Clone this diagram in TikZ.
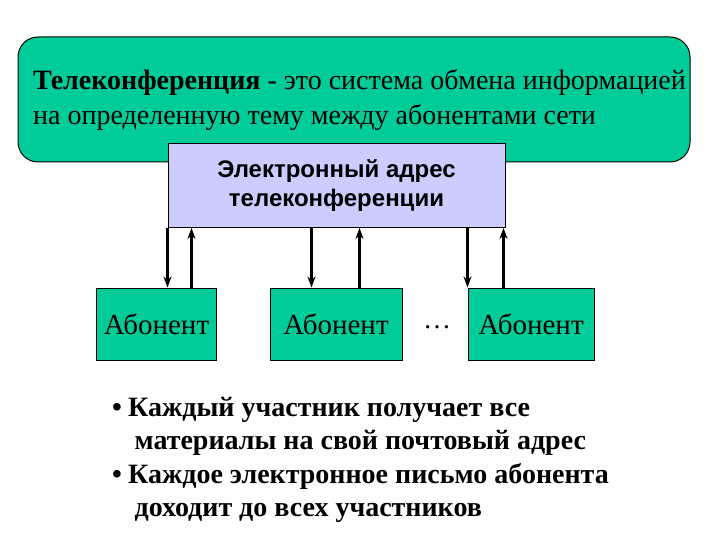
\documentclass[tikz,border=0pt]{standalone}
\usepackage{fontspec}
\setmainfont{Liberation Serif}
\setsansfont{Liberation Sans}
\usetikzlibrary{arrows.meta}
\definecolor{teal1}{RGB}{0,204,153}
\definecolor{lav}{RGB}{204,204,255}
\begin{document}
\begin{tikzpicture}[x=1pt,y=-1pt,
  topbox/.style={draw=black, line width=1pt, fill=teal1, rounded corners=20pt, minimum width=672pt, minimum height=125pt, inner sep=0pt},
  addrbox/.style={draw=black, line width=1pt, fill=lav, minimum width=337pt, minimum height=84pt, inner sep=0pt, align=center, font=\sffamily\bfseries\fontsize{24}{29}\selectfont},
  subbox/.style={draw=black, line width=1pt, fill=teal1, minimum height=72pt, inner sep=0pt, font=\fontsize{29}{30}\selectfont},
  arr/.style={line width=2.2pt, -{Stealth[length=11pt,width=8pt]}}
]
\useasboundingbox (0,0) rectangle (720,540);
\node[topbox] (top) at (354,99.5) {};
\node[anchor=west, align=left, inner sep=0pt, font=\fontsize{28}{35}\selectfont] (toptext) at (33,100)
  {\textbf{Телеконференция} - это система обмена информацией\\на определенную тему между абонентами сети};
\node[addrbox] (addr) at (336.5,186) {Электронный адрес\\телеконференции};
\node[subbox, minimum width=120pt] (s1) at (156.5,324) {Абонент};
\node[subbox, minimum width=132pt] (s2) at (336,324) {Абонент};
\node[subbox, minimum width=126pt] (s3) at (531,324) {Абонент};
\node[font=\fontsize{28}{30}\selectfont] (dots) at (437,327) {\ldots};
\coordinate (a1) at (167.5,228); \coordinate (b1) at (191.5,228);
\coordinate (a2) at (311.5,228); \coordinate (b2) at (359.5,228);
\coordinate (a3) at (467.5,228); \coordinate (b3) at (503.5,228);
\draw[arr] (a1) -- (a1 |- s1.north);
\draw[arr] (b1 |- s1.north) -- (b1);
\draw[arr] (a2) -- (a2 |- s2.north);
\draw[arr] (b2 |- s2.north) -- (b2);
\draw[arr] (a3) -- (a3 |- s3.north);
\draw[arr] (b3 |- s3.north) -- (b3);
\node[anchor=north west, align=left, inner sep=0pt, font=\bfseries\fontsize{28}{33.5}\selectfont] (notes) at (112,397)
  {\textbullet\hspace{0.22em}Каждый участник получает все\\
   \hspace*{0.8em}материалы на свой почтовый адрес\\
   \textbullet\hspace{0.22em}Каждое электронное письмо абонента\\
   \hspace*{0.8em}доходит до всех участников};
\end{tikzpicture}
\end{document}
